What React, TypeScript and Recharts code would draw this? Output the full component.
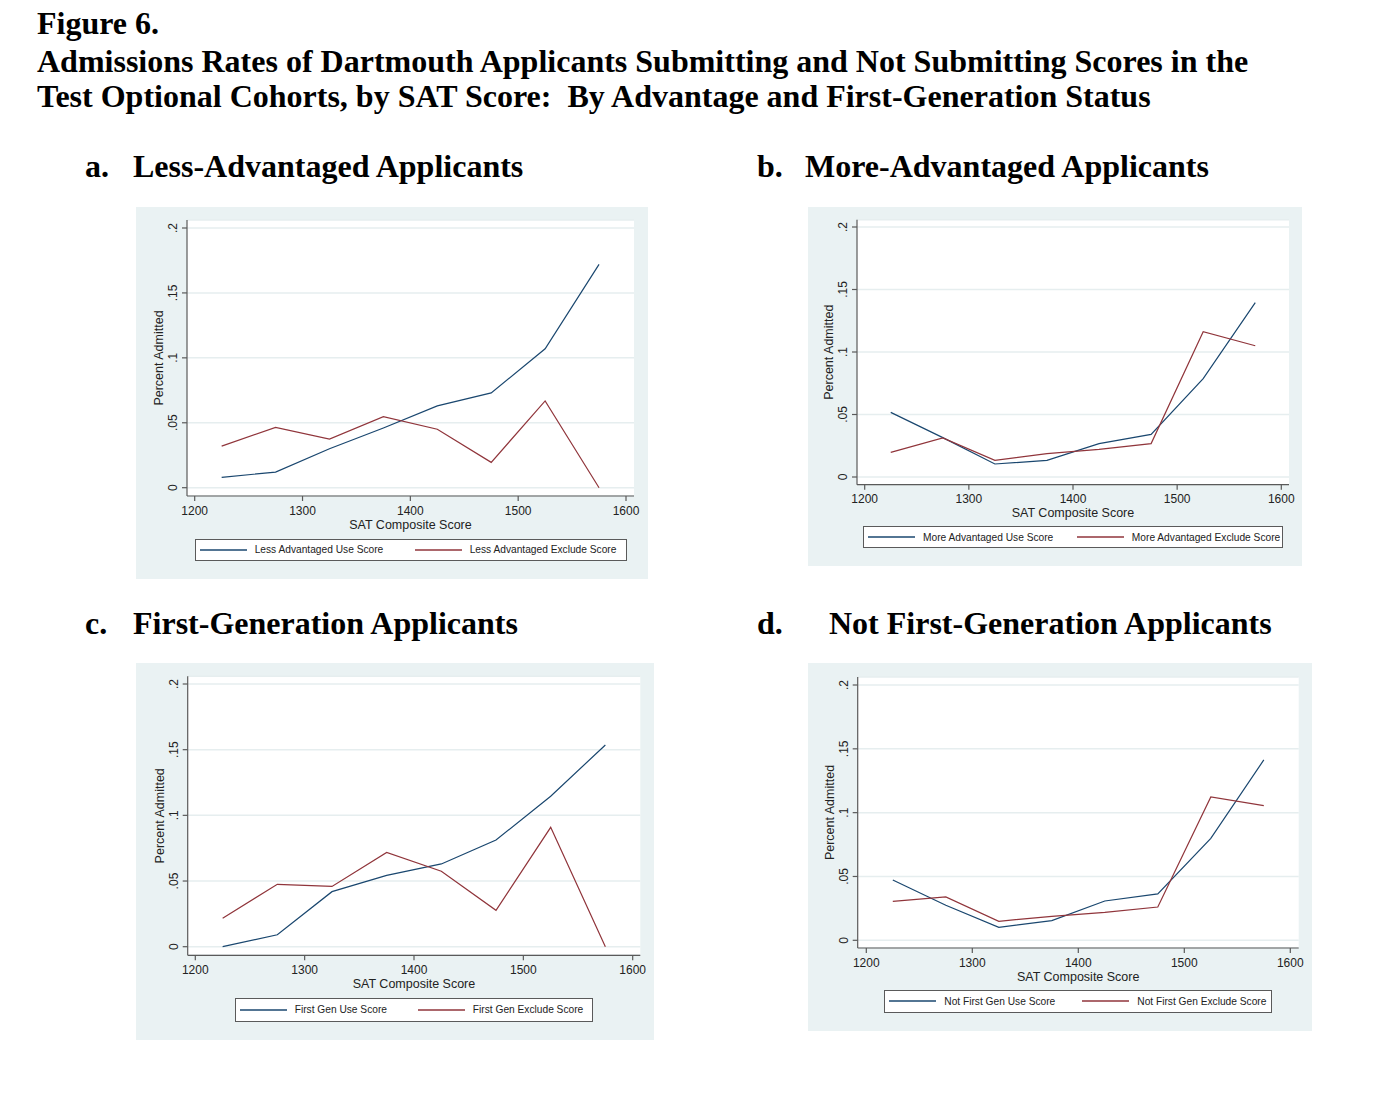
import React from 'react'
import { LineChart, Line, XAxis, YAxis, CartesianGrid, Label } from 'recharts'

// SAT bins (midpoints) and axis ticks
const satScores = [1225, 1275, 1325, 1375, 1425, 1475, 1525, 1575]
const xTicks = [1200, 1300, 1400, 1500, 1600]
const yTicks = [0, 0.05, 0.1, 0.15, 0.2]
const yTickLabels = ['0', '.05', '.1', '.15', '.2']

// share admitted
const lessAdvUse = [0.008, 0.012, 0.03, 0.046, 0.063, 0.073, 0.107, 0.172]
const lessAdvExclude = [0.032, 0.0465, 0.0375, 0.0547, 0.045, 0.0195, 0.0668, 0]
const moreAdvUse = [0.0517, 0.0315, 0.0104, 0.0133, 0.0267, 0.0341, 0.0787, 0.1395]
const moreAdvExclude = [0.0197, 0.0312, 0.0133, 0.0187, 0.0221, 0.0267, 0.1163, 0.105]
const firstGenUse = [0, 0.0091, 0.0419, 0.0543, 0.063, 0.0812, 0.1145, 0.1536]
const firstGenExclude = [0.0216, 0.0475, 0.0459, 0.0718, 0.0574, 0.0277, 0.0909, 0]
const notFirstGenUse = [0.0473, 0.0274, 0.0102, 0.0154, 0.0308, 0.0363, 0.0799, 0.1413]
const notFirstGenExclude = [0.0305, 0.034, 0.0149, 0.0188, 0.0219, 0.0261, 0.1123, 0.1055]

const BG = '#eaf2f3'
const GRID = '#e6eeef'
const AXIS = '#5a5a5a'
const BLUE = '#1a476f'
const RED = '#90353b'
const SANS = '"Liberation Sans", Arial, sans-serif'
const SERIF = '"Liberation Serif", "Times New Roman", serif'

type Rect = { l: number; t: number; r: number; b: number }

interface PanelProps {
  box: { l: number; t: number; w: number; h: number }
  plot: Rect
  y0: number
  y2: number
  x1200: number
  x1600: number
  legend: Rect
  useLabel: string
  excludeLabel: string
  use: number[]
  exclude: number[]
}

function Panel({ box, plot, y0, y2, x1200, x1600, legend, useLabel, excludeLabel, use, exclude }: PanelProps) {
  const data = satScores.map((sat, i) => ({ sat, use: use[i], exclude: exclude[i] }))
  const yPx = (y0 - y2) / 0.2
  const yDomain = [-(plot.b - y0) / yPx, 0.2 + (y2 - plot.t) / yPx]
  const xPx = (x1600 - x1200) / 400
  const xDomain = [1200 - (x1200 - plot.l) / xPx, 1600 + (plot.r - x1600) / xPx]
  const yAxisW = plot.l - box.l
  const xAxisH = box.t + box.h - plot.b

  const yTick = (p: any) => {
    const { x, y, payload } = p
    const idx = yTicks.findIndex((t) => Math.abs(t - payload.value) < 1e-6)
    return (
      <text x={x} y={y} transform={`rotate(-90 ${x} ${y})`} textAnchor="middle"
        fontSize={12} fill="#222" fontFamily={SANS}>
        {yTickLabels[idx]}
      </text>
    )
  }

  return (
    <div style={{ position: 'absolute', left: box.l, top: box.t, width: box.w, height: box.h, background: BG }}>
      <LineChart width={box.w} height={box.h} data={data}
        margin={{ top: plot.t - box.t, right: box.l + box.w - plot.r, bottom: 0, left: 0 }}>
        <CartesianGrid vertical={false} fill="#fff" stroke={GRID} strokeWidth={1.5} />
        <XAxis type="number" dataKey="sat" domain={xDomain} ticks={xTicks} allowDataOverflow
          height={xAxisH} tickSize={5} tickMargin={5} interval={0}
          stroke={AXIS} strokeWidth={1.2}
          tick={{ fontSize: 12, fill: '#222', fontFamily: SANS }}>
          <Label content={() => (
            <text x={(plot.l + plot.r) / 2 - box.l} y={plot.b - box.t + 32.5} textAnchor="middle"
              fontSize={12.5} fill="#222" fontFamily={SANS}>SAT Composite Score</text>
          )} />
        </XAxis>
        <YAxis type="number" domain={yDomain} ticks={yTicks} allowDataOverflow
          width={yAxisW} tickSize={5} tickMargin={5} interval={0}
          stroke={AXIS} strokeWidth={1.2} tick={yTick}>
          <Label content={() => {
            const cx = yAxisW - 28.5 + 4.5
            const cy = (plot.t + plot.b) / 2 - box.t
            return (
              <text x={cx} y={cy} transform={`rotate(-90 ${cx} ${cy})`} textAnchor="middle"
                fontSize={12.5} fill="#222" fontFamily={SANS}>Percent Admitted</text>
            )
          }} />
        </YAxis>
        <Line type="linear" dataKey="use" stroke={BLUE} strokeWidth={1.2} dot={false} isAnimationActive={false} />
        <Line type="linear" dataKey="exclude" stroke={RED} strokeWidth={1.2} dot={false} isAnimationActive={false} />
      </LineChart>
      <div style={{
        position: 'absolute', left: legend.l - box.l, top: legend.t - box.t,
        width: legend.r - legend.l, height: legend.b - legend.t, boxSizing: 'border-box',
        border: `1.3px solid ${AXIS}`, background: '#fff', display: 'flex', alignItems: 'center',
        fontFamily: SANS, fontSize: 10.2, color: '#222',
      }}>
        {[{ c: BLUE, t: useLabel }, { c: RED, t: excludeLabel }].map((e) => (
          <div key={e.t} style={{ width: '50%', display: 'flex', alignItems: 'center', paddingLeft: 4, whiteSpace: 'nowrap' }}>
            <svg width={47} height={4} style={{ marginRight: 8 }}>
              <line x1={0} y1={2} x2={47} y2={2} stroke={e.c} strokeWidth={1.3} />
            </svg>
            <span>{e.t}</span>
          </div>
        ))}
      </div>
    </div>
  )
}

// text positioned by its baseline (Liberation Serif metrics)
function Txt({ x, base, size, children }: { x: number; base: number; size: number; children: React.ReactNode }) {
  return (
    <div style={{
      position: 'absolute', left: x, top: base - 0.8375 * size, fontSize: size, lineHeight: 1,
      fontFamily: SERIF, fontWeight: 'bold', whiteSpace: 'nowrap', color: '#000',
    }}>{children}</div>
  )
}

export default function App() {
  return (
    <div style={{ position: 'absolute', left: 0, top: 0, width: 1383, height: 1102, background: '#fff', overflow: 'hidden' }}>
      <Txt x={37} base={33.5} size={32}>Figure 6.</Txt>
      <Txt x={37} base={71.5} size={32}>Admissions Rates of Dartmouth Applicants Submitting and Not Submitting Scores in the</Txt>
      <Txt x={37} base={107} size={32}>Test Optional Cohorts, by SAT Score:&nbsp; By Advantage and First-Generation Status</Txt>

      <Txt x={85} base={177} size={32}>a.</Txt>
      <Txt x={133} base={177} size={32}>Less-Advantaged Applicants</Txt>
      <Txt x={757} base={177} size={32}>b.</Txt>
      <Txt x={805} base={177} size={32}>More-Advantaged Applicants</Txt>
      <Txt x={85} base={634} size={32}>c.</Txt>
      <Txt x={133} base={634} size={32}>First-Generation Applicants</Txt>
      <Txt x={757} base={634} size={32}>d.</Txt>
      <Txt x={829} base={634} size={32}>Not First-Generation Applicants</Txt>

      <Panel box={{ l: 136, t: 207, w: 512, h: 372 }} plot={{ l: 187, t: 220, r: 634, b: 496 }}
        y0={487.7} y2={228} x1200={194.7} x1600={626}
        legend={{ l: 194.7, t: 538.7, r: 626.7, b: 561.3 }}
        useLabel="Less Advantaged Use Score" excludeLabel="Less Advantaged Exclude Score"
        use={lessAdvUse} exclude={lessAdvExclude} />
      <Panel box={{ l: 808, t: 207, w: 494, h: 359 }} plot={{ l: 857, t: 219.7, r: 1289, b: 484.7 }}
        y0={477} y2={227} x1200={864.7} x1600={1281.3}
        legend={{ l: 863, t: 526, r: 1282.7, b: 548.3 }}
        useLabel="More Advantaged Use Score" excludeLabel="More Advantaged Exclude Score"
        use={moreAdvUse} exclude={moreAdvExclude} />
      <Panel box={{ l: 136, t: 663, w: 518, h: 377 }} plot={{ l: 187.7, t: 676.3, r: 640.3, b: 955.3 }}
        y0={946.7} y2={684} x1200={195.3} x1600={632.7}
        legend={{ l: 234.7, t: 998, r: 593, b: 1021.7 }}
        useLabel="First Gen Use Score" excludeLabel="First Gen Exclude Score"
        use={firstGenUse} exclude={firstGenExclude} />
      <Panel box={{ l: 808, t: 663, w: 504, h: 368 }} plot={{ l: 857.7, t: 677, r: 1298.7, b: 948 }}
        y0={940.3} y2={685} x1200={866.3} x1600={1290.3}
        legend={{ l: 884.3, t: 989.7, r: 1272.3, b: 1013 }}
        useLabel="Not First Gen Use Score" excludeLabel="Not First Gen Exclude Score"
        use={notFirstGenUse} exclude={notFirstGenExclude} />
    </div>
  )
}
